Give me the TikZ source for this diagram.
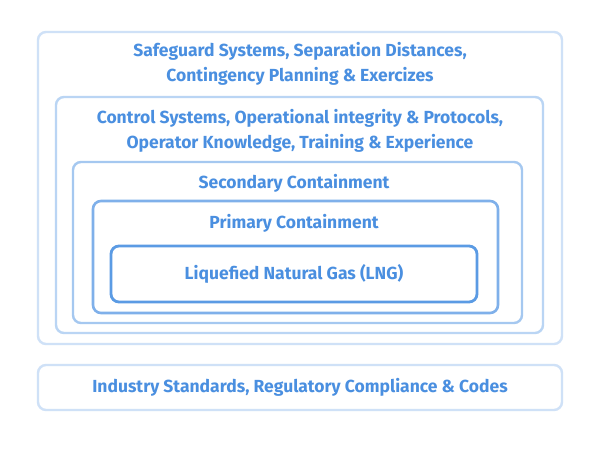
\documentclass[tikz,border=0pt]{standalone}
\usepackage{fontspec}
\setmainfont{Fira Sans}
\definecolor{txt}{HTML}{4A8FE0}
\definecolor{c1}{HTML}{CFE1F7}
\definecolor{c2}{HTML}{BAD5F4}
\definecolor{c3}{HTML}{A5C8F0}
\definecolor{c4}{HTML}{7FB0EA}
\definecolor{c5}{HTML}{5B9BE4}
\begin{document}
\begin{tikzpicture}[x=1pt,y=-1pt,
  frame/.style={draw=#1, line width=2.4pt, rounded corners=8pt, fill=white},
  lbl/.style={text=txt, font=\fontsize{17.5}{25}\selectfont\bfseries, align=center, inner sep=0pt}]
\useasboundingbox[fill=white] (0,0) rectangle (603,449);
\draw[frame=c1] (38,32) rectangle (562,344);
\draw[frame=c2] (56,97) rectangle (543,333);
\draw[frame=c3] (73,162) rectangle (522,323);
\draw[frame=c4,line width=2.6pt] (93,201) rectangle (498,313);
\draw[frame=c5,line width=2.8pt] (111,246) rectangle (477,302);
\draw[frame=c1] (38,365) rectangle (562,410);
\node[lbl] (t1) at (300,64) {Safeguard Systems, Separation Distances,\\Contingency Planning \& Exercizes};
\node[lbl] (t2) at (300,131) {Control Systems, Operational integrity \& Protocols,\\Operator Knowledge, Training \& Experience};
\node[lbl] (t3) at (294,183) {Secondary Containment};
\node[lbl] (t4) at (294,223) {Primary Containment};
\node[lbl] (t5) at (294,274) {Liquefied Natural Gas (LNG)};
\node[lbl] (t6) at (300,387) {Industry Standards, Regulatory Compliance \& Codes};
\end{tikzpicture}
\end{document}
